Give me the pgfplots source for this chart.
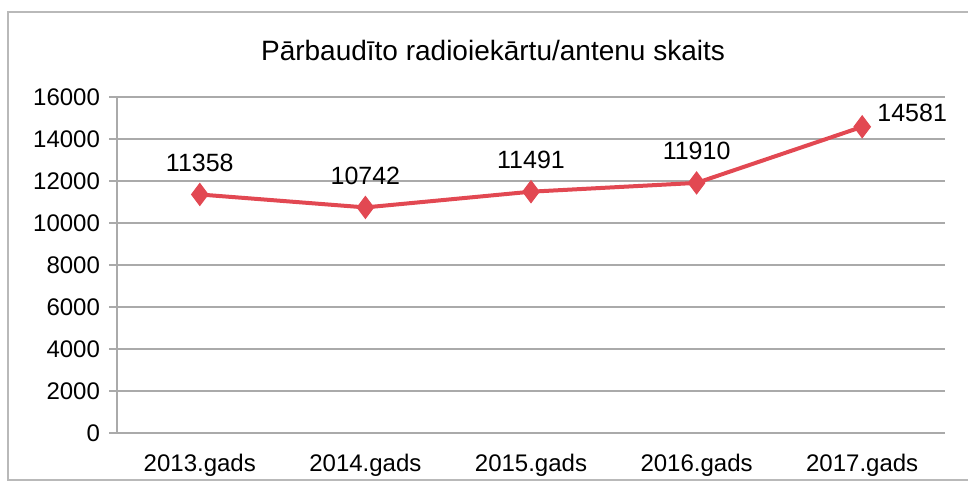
\documentclass[border=0pt]{standalone}
\usepackage{fontspec}
\setmainfont{Liberation Sans}
\usepackage{pgfplots}
\pgfplotsset{compat=1.18}

\definecolor{linered}{RGB}{226,72,82}
\definecolor{gridgray}{RGB}{170,170,170}

\begin{document}
\begin{tikzpicture}[x=1pt,y=1pt]
  \useasboundingbox (0,0) rectangle (484,246.5);
  \draw[gray!55, line width=0.8pt] (4,6.5) rectangle (492,240.5);
  \node[font=\fontsize{14}{16}\selectfont] at (246.5,221.5) {Pārbaudīto radioiekārtu/antenu skaits};
  \begin{axis}[
      at={(58.5pt,30pt)}, anchor=south west,
      scale only axis,
      width=414pt, height=168pt,
      xmin=-0.5, xmax=4.5,
      ymin=0, ymax=16000,
      ytick={0,2000,...,16000},
      xtick={0,1,2,3,4},
      xticklabels={2013.gads,2014.gads,2015.gads,2016.gads,2017.gads},
      extra x ticks={-0.5,0.5,1.5,2.5,3.5,4.5},
      extra x tick labels={},
      extra x tick style={major tick length=4pt, tick style={gridgray}, tick align=outside},
      major x tick style={draw=none},
      ymajorgrids,
      grid style={gridgray, line width=0.6pt},
      axis x line*=bottom, axis y line*=left,
      axis line style={gridgray, line width=0.6pt, -},
      y tick style={gridgray, line width=0.6pt},
      tick align=outside, major tick length=4pt,
      scaled y ticks=false,
      tick label style={font=\fontsize{12}{14}\selectfont, text=black},
      /pgf/number format/assume math mode=true,
      yticklabel style={/pgf/number format/1000 sep={}, xshift=-1pt},
      xticklabel style={yshift=-3pt},
      clip=false,
    ]
    \addplot[linered, line width=2pt, mark=diamond*, mark size=5.5pt,
             mark options={fill=linered, draw=linered, line width=0.5pt}]
      coordinates {(0,11358) (1,10742) (2,11491) (3,11910) (4,14581)};
    \addplot[draw=none, mark=none, nodes near coords, point meta=explicit symbolic,
             nodes near coords style={anchor=center, yshift=16pt, font=\fontsize{12.5}{14}\selectfont}]
      coordinates {(0,11358)[11358] (1,10742)[10742] (2,11491)[11491] (3,11910)[11910]};
    \addplot[draw=none, mark=none, nodes near coords, point meta=explicit symbolic,
             nodes near coords style={anchor=center, xshift=25pt, yshift=7pt, font=\fontsize{12.5}{14}\selectfont}]
      coordinates {(4,14581)[14581]};
  \end{axis}
\end{tikzpicture}
\end{document}
